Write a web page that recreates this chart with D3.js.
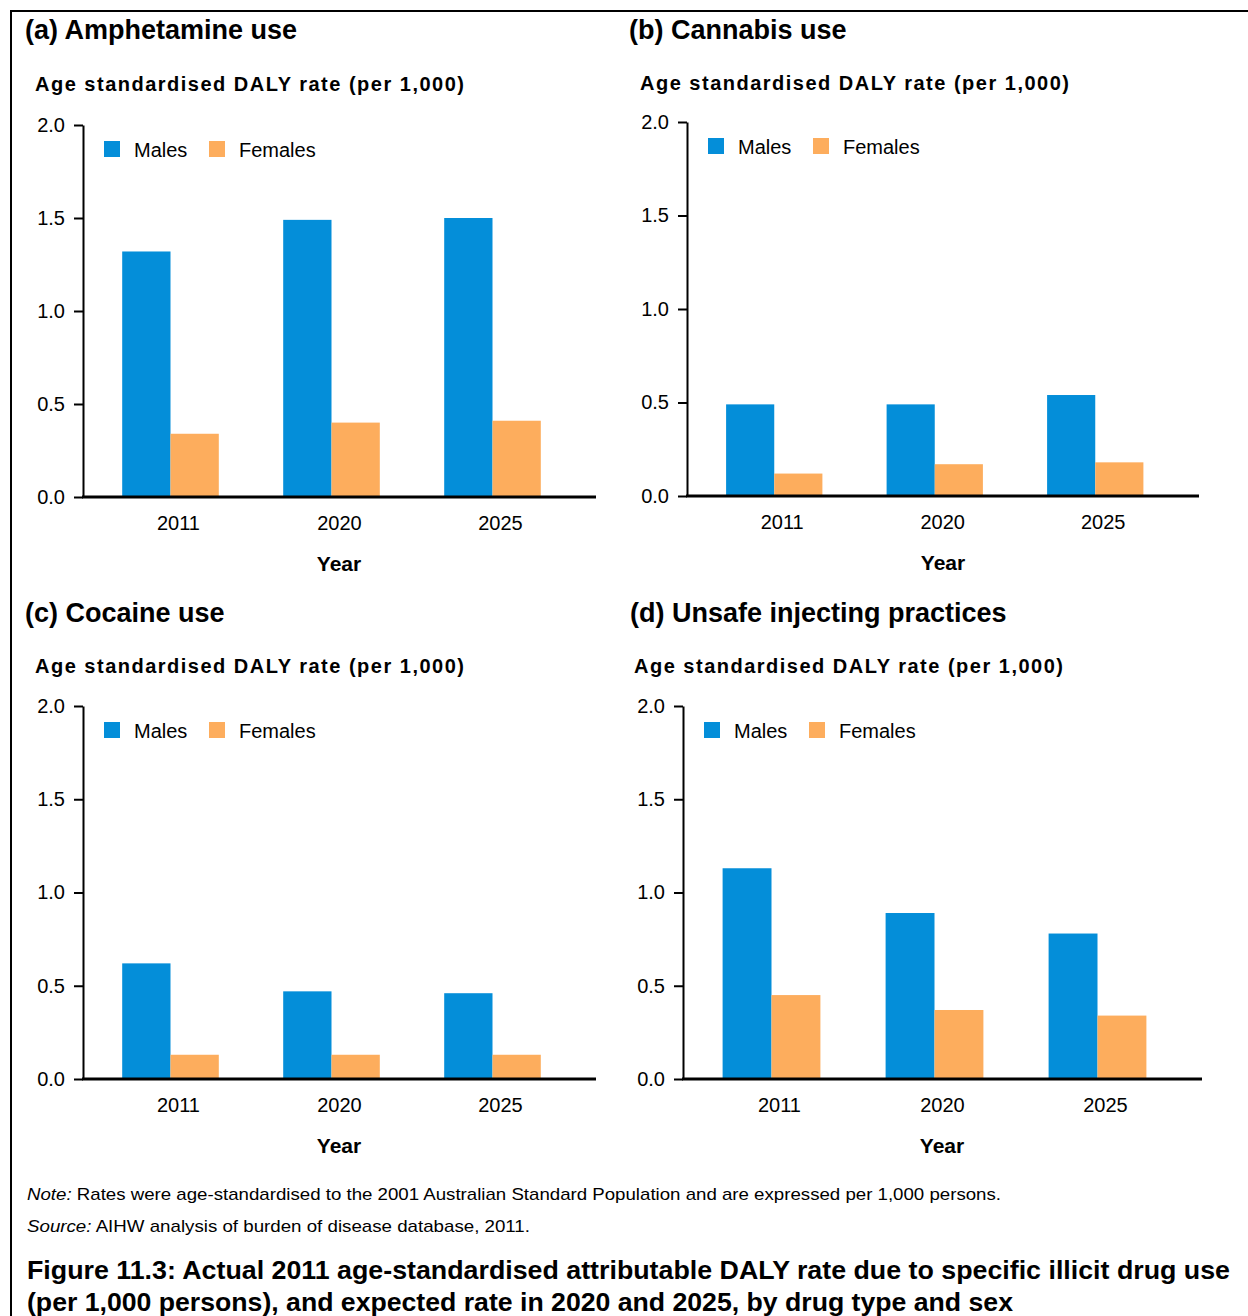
<!DOCTYPE html>
<html>
<head>
<meta charset="utf-8">
<script src="https://cdnjs.cloudflare.com/ajax/libs/d3/7.8.5/d3.min.js"></script>
<style>
  html, body { margin: 0; padding: 0; background: #fff; }
  svg { display: block; font-family: "Liberation Sans", Arial, sans-serif; }
</style>
</head>
<body>
<script>
// ---- Data ----
const years = ["2011", "2020", "2025"];
const seriesNames = ["Males", "Females"];
const panelTitles = ["(a) Amphetamine use", "(b) Cannabis use", "(c) Cocaine use", "(d) Unsafe injecting practices"];
const yTitle = "Age standardised DALY rate (per 1,000)";
const xTitle = "Year";
const yTicks = [0, 0.5, 1.0, 1.5, 2.0];

const malesAmphetamine = [1.32, 1.49, 1.50];
const femalesAmphetamine = [0.34, 0.40, 0.41];
const malesCannabis = [0.49, 0.49, 0.54];
const femalesCannabis = [0.12, 0.17, 0.18];
const malesCocaine = [0.62, 0.47, 0.46];
const femalesCocaine = [0.13, 0.13, 0.13];
const malesInjecting = [1.13, 0.89, 0.78];
const femalesInjecting = [0.45, 0.37, 0.34];

const noteText = "Rates were age-standardised to the 2001 Australian Standard Population and are expressed per 1,000 persons.";
const sourceText = "AIHW analysis of burden of disease database, 2011.";
const captionLines = [
  "Figure 11.3: Actual 2011 age-standardised attributable DALY rate due to specific illicit drug use",
  "(per 1,000 persons), and expected rate in 2020 and 2025, by drug type and sex"
];

const colors = { Males: "#048ed9", Females: "#fdad5d" };

// ---- Layout ----
const W = 1248, H = 1316;
const svg = d3.select("body").append("svg").attr("width", W).attr("height", H);

// frame (left + top lines)
svg.append("line").attr("x1", 11).attr("x2", 11).attr("y1", 10).attr("y2", H).attr("stroke", "#000").attr("stroke-width", 2);
svg.append("line").attr("x1", 10).attr("x2", W).attr("y1", 11).attr("y2", 11).attr("stroke", "#000").attr("stroke-width", 2);

const panels = [
  { title: panelTitles[0], males: malesAmphetamine, females: femalesAmphetamine,
    titleX: 25, titleY: 39, subX: 35, subY: 91, axisX: 83, yTop: 125, yBot: 497, baseEnd: 596, step: 161, yearX: 339 },
  { title: panelTitles[1], males: malesCannabis, females: femalesCannabis,
    titleX: 629, titleY: 39, subX: 640, subY: 90, axisX: 687, yTop: 122, yBot: 496, baseEnd: 1199, step: 160.5, yearX: 943 },
  { title: panelTitles[2], males: malesCocaine, females: femalesCocaine,
    titleX: 25, titleY: 622, subX: 35, subY: 673, axisX: 83, yTop: 706, yBot: 1079, baseEnd: 596, step: 161, yearX: 339 },
  { title: panelTitles[3], males: malesInjecting, females: femalesInjecting,
    titleX: 630, titleY: 622, subX: 634, subY: 673, axisX: 683, yTop: 706, yBot: 1079, baseEnd: 1202, step: 163, yearX: 942 }
];

panels.forEach(p => {
  const g = svg.append("g");

  g.append("text").attr("x", p.titleX).attr("y", p.titleY)
    .attr("font-size", 27).attr("font-weight", "bold").attr("fill", "#000")
    .text(p.title);

  g.append("text").attr("x", p.subX).attr("y", p.subY)
    .attr("font-size", 20).attr("font-weight", "bold").attr("fill", "#000")
    .attr("textLength", 429).attr("lengthAdjust", "spacing")
    .text(yTitle);

  const y = d3.scaleLinear().domain([0, 2]).range([p.yBot, p.yTop]);
  const x0 = d3.scaleBand().domain(years)
    .range([p.axisX + 7, p.axisX + 7 + 3 * p.step])
    .paddingInner(0.4).paddingOuter(0.2);
  const x1 = d3.scaleBand().domain(seriesNames).range([0, x0.bandwidth()]);

  // bars
  const rows = years.map((yr, i) => ({ year: yr, Males: p.males[i], Females: p.females[i] }));
  g.append("g").selectAll("g").data(rows).join("g")
    .attr("transform", d => `translate(${x0(d.year)},0)`)
    .selectAll("rect").data(d => seriesNames.map(s => ({ s, v: d[s] }))).join("rect")
    .attr("x", d => x1(d.s)).attr("width", x1.bandwidth())
    .attr("y", d => y(d.v)).attr("height", d => y(0) - y(d.v))
    .attr("fill", d => colors[d.s]);

  // y axis
  const ya = g.append("g").attr("transform", `translate(${p.axisX},0)`)
    .call(d3.axisLeft(y).tickValues(yTicks).tickFormat(d3.format(".1f"))
      .tickSize(9).tickSizeOuter(0).tickPadding(9));
  ya.select(".domain").attr("stroke", "#000").attr("stroke-width", 2);
  ya.selectAll(".tick line").attr("stroke", "#000").attr("stroke-width", 2);
  ya.selectAll(".tick text").attr("font-size", 20).attr("fill", "#000")
    .attr("font-family", "Liberation Sans, Arial, sans-serif");

  // baseline
  g.append("line").attr("x1", p.axisX - 1).attr("x2", p.baseEnd)
    .attr("y1", y(0)).attr("y2", y(0)).attr("stroke", "#000").attr("stroke-width", 3);

  // x labels
  g.append("g").selectAll("text").data(years).join("text")
    .attr("x", d => x0(d) + x0.bandwidth() / 2 + 8).attr("y", p.yBot + 33)
    .attr("text-anchor", "middle").attr("font-size", 20).attr("fill", "#000")
    .text(d => d);

  g.append("text").attr("x", p.yearX).attr("y", p.yBot + 74)
    .attr("text-anchor", "middle").attr("font-size", 21).attr("font-weight", "bold").attr("fill", "#000")
    .text(xTitle);

  // legend
  const legX = [p.axisX + 21, p.axisX + 126];
  seriesNames.forEach((s, i) => {
    g.append("rect").attr("x", legX[i]).attr("y", p.yTop + 16).attr("width", 16).attr("height", 16)
      .attr("fill", colors[s]);
    g.append("text").attr("x", legX[i] + 30).attr("y", p.yTop + 32)
      .attr("font-size", 20).attr("fill", "#000").text(s);
  });
});

// notes
const note = svg.append("text").attr("x", 27).attr("y", 1200).attr("font-size", 17).attr("fill", "#000")
  .attr("textLength", 974).attr("lengthAdjust", "spacingAndGlyphs");
note.append("tspan").attr("font-style", "italic").text("Note:");
note.append("tspan").text(" " + noteText);

const src = svg.append("text").attr("x", 27).attr("y", 1232).attr("font-size", 17).attr("fill", "#000")
  .attr("textLength", 503).attr("lengthAdjust", "spacingAndGlyphs");
src.append("tspan").attr("font-style", "italic").text("Source:");
src.append("tspan").text(" " + sourceText);

const capLens = [1203, 986];
captionLines.forEach((t, i) => {
  svg.append("text").attr("x", 27).attr("y", 1279 + i * 32)
    .attr("font-size", 25).attr("font-weight", "bold").attr("fill", "#000")
    .attr("textLength", capLens[i]).attr("lengthAdjust", "spacingAndGlyphs")
    .text(t);
});
</script>
</body>
</html>
